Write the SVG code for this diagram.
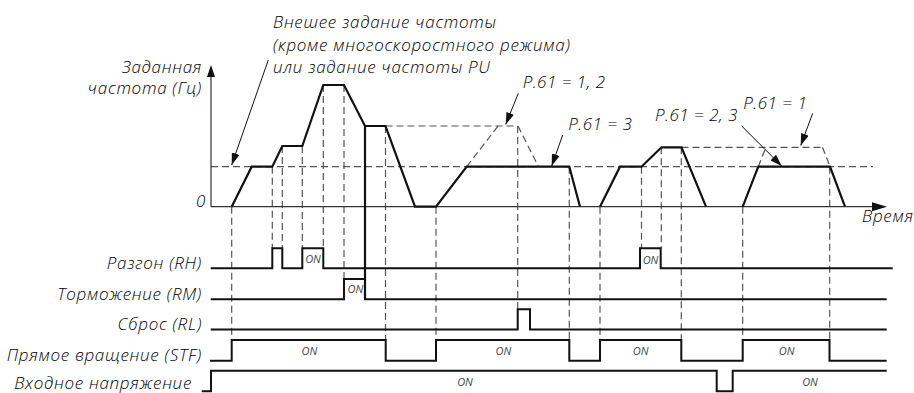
<svg xmlns="http://www.w3.org/2000/svg" width="914" height="393" viewBox="0 0 914 393">
<defs>
<style>
.t{font-family:"Open Sans","Noto Sans","DejaVu Sans",sans-serif;font-style:italic;font-weight:300;font-size:17px;letter-spacing:0.7px;fill:#000}
.p{letter-spacing:0.5px}
.on{font-family:"Open Sans","Noto Sans",sans-serif;font-style:italic;font-size:11px;fill:#444;text-anchor:middle}
.r{text-anchor:end}
.dash{fill:none;stroke:#555;stroke-width:1.2;stroke-dasharray:7 4}
.axis{fill:none;stroke:#333;stroke-width:1.2}
.wave{fill:none;stroke:#111;stroke-width:2.2;stroke-linejoin:miter}
.sig{fill:none;stroke:#111;stroke-width:2}
.ann{fill:none;stroke:#111;stroke-width:1}
</style>
<marker id="ah" viewBox="0 0 12 8" refX="12" refY="4" markerWidth="12" markerHeight="8" markerUnits="userSpaceOnUse" orient="auto">
<path d="M0,0 L12,4 L0,8 z" fill="#111"/>
</marker>
</defs>
<rect width="914" height="393" fill="#fff"/>

<g id="connectors">
<path class="dash" d="M211,166.7 H873"/>
<path class="dash" d="M385.5,126 H518"/>
<path class="dash" d="M466.7,166.7 L498,126 M518,126 L538.5,166.7"/>
<path class="dash" d="M681.5,147.3 H822.5 M758.3,166.7 L765.8,147.3 M822.5,147.3 L830,166.7"/>
<path class="dash" d="M231.7,206.7 V340 M272.3,166.7 V248.3 M282.3,146 V248.3 M302.3,146 V248.3 M323.3,85 V248.3 M344,85 V279 M385.5,126 V340 M436,206.7 V340 M517.7,126 V309.3 M569.3,166.7 V340 M600,206.7 V340 M641.5,166.7 V248.3 M661.3,147.3 V248.3 M681.3,147.3 V340 M742.7,206.7 V340 M829.7,166.7 V340"/>
<path class="axis" d="M211,206.7 V75 M211,206.7 H875"/>
<path d="M211,65 L207,77 L215,77 z" fill="#111"/>
<path d="M887,206.7 L872,202.2 L872,211.2 z" fill="#111"/>
<path class="wave" d="M231.7,206.7 L251.7,166.7 L272.3,166.7 L282.3,146 L302.3,146 L323.3,85 L344,85 L365,126 L385.5,126 L415,206.7 L436,206.7 L466.7,166.7 L569.3,166.7 L580,206.7"/>
<path class="wave" d="M600,206.7 L620,166.7 L641.5,166.7 L661.5,147.3 L681.5,147.3 L706,206.7"/>
<path class="wave" d="M742.7,206.7 L758.3,166.7 L830,166.7 L845,206.7"/>
<path class="wave" d="M365,126 V299.3"/>
<path class="ann" marker-end="url(#ah)" d="M268.3,60 L231.7,165"/>
<path class="ann" marker-end="url(#ah)" d="M518.3,93.3 L505.7,124.5"/>
<path class="ann" marker-end="url(#ah)" d="M562.7,135 L551.7,166"/>
<path class="ann" marker-end="url(#ah)" d="M741.7,126 L781.7,166"/>
<path class="ann" marker-end="url(#ah)" d="M812.7,113.3 L800.7,145.5"/>
<path class="sig" d="M210.7,268.3 H272.3 V248.3 H282.3 V268.3 H302.3 V248.3 H323.3 V268.3 H640 V248.3 H660.7 V268.3 H892.7"/>
<path class="sig" d="M210.7,299.3 H344 V279 H365 V299.3 H886.7"/>
<path class="sig" d="M210.7,329.5 H517.7 V309.3 H530 V329.5 H886.7"/>
<path class="sig" d="M210,360.7 H231.7 V340 H385.7 V360.7 H436 V340 H569.3 V360.7 H600 V340 H681.3 V360.7 H742.7 V340 H829.5 V360.7 H886.7"/>
<path class="sig" d="M201.7,391.2 H211 V370.7 H716.7 V391.2 H732.7 V370.7 H886.7"/>
</g>

<g id="labels">
<text class="t" x="273" y="28">Внешее задание частоты</text>
<text class="t" x="273" y="51">(кроме многоскоростного режима)</text>
<text class="t" x="273" y="73">или задание частоты PU</text>
<text class="t r" x="202" y="72.5">Заданная</text>
<text class="t r" x="202" y="94">частота (Гц)</text>
<text class="t r" x="206" y="207">0</text>
<text class="t" x="862" y="222">Время</text>
<text class="t p" x="522.7" y="87.5">P.61 = 1, 2</text>
<text class="t p" x="568.3" y="130">P.61 = 3</text>
<text class="t p" x="655" y="120.5">P.61 = 2, 3</text>
<text class="t p" x="743.3" y="108.5">P.61 = 1</text>
</g>

<g id="sig-labels">
<text class="t r" x="202" y="269">Разгон (RH)</text>
<text class="t r" x="202" y="299.5">Торможение (RM)</text>
<text class="t r" x="202" y="330">Сброс (RL)</text>
<text class="t r" x="202" y="360.5">Прямое вращение (STF)</text>
<text class="t r" x="192" y="389">Входное напряжение</text>
</g>

<g id="on-labels">
<text class="on" x="313" y="263">ON</text>
<text class="on" x="650.5" y="263.5">ON</text>
<text class="on" x="355.3" y="293">ON</text>
<text class="on" x="309.3" y="355">ON</text>
<text class="on" x="503.3" y="355">ON</text>
<text class="on" x="640.7" y="355">ON</text>
<text class="on" x="786.7" y="355">ON</text>
<text class="on" x="465" y="385.5">ON</text>
<text class="on" x="810" y="385.5">ON</text>
</g>
</svg>
